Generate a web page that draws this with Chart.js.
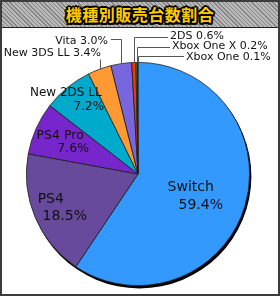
<!DOCTYPE html>
<html><head><meta charset="utf-8">
<script src="https://cdn.jsdelivr.net/npm/chart.js@4.4.1/dist/chart.umd.min.js"></script>
<style>
html,body{margin:0;padding:0;background:#fff;}
#wrap{position:relative;width:280px;height:296px;overflow:hidden;background:#fff;}
#c{position:absolute;left:0;top:0;}
#hdr{position:absolute;left:0;top:0;width:280px;height:27px;border-bottom:1px solid #222;
 background:repeating-linear-gradient(45deg,#858585 0 1px,#b8b8b8 1px 3px);
 display:flex;align-items:center;justify-content:center;
 font:bold 16px "Noto Sans CJK JP",sans-serif;color:#ffcc00;letter-spacing:0.5px;
 text-shadow:-2px 0 #000,2px 0 #000,0 -2px #000,0 2px #000,-1.5px -1.5px #000,1.5px -1.5px #000,-1.5px 1.5px #000,1.5px 1.5px #000;}
#frame{position:absolute;left:0;top:0;right:0;bottom:0;border:2px solid #3c3c3c;pointer-events:none;}
</style></head>
<body>
<div id="wrap">
<canvas id="c" width="280" height="296"></canvas>
<div id="hdr">機種別販売台数割合</div>
<div id="frame"></div>
</div>
<script>
// ---- data ----
const categories = ['Switch','PS4','PS4 Pro','New 2DS LL','New 3DS LL','Vita','2DS','Xbox One X','Xbox One'];
const shares = [59.4, 18.5, 7.6, 7.2, 3.4, 3.0, 0.6, 0.2, 0.1];
const sliceColors = ['#3399ff','#674a9c','#7726cc','#00aacc','#ff9933','#7766dd','#ff3300','#33a033','#005f2f'];

// ---- label layout (styling only) ----
const insideLabels = {
  0: {f:0.55, dx:-1, dy:4, l1:[-5,-9], l2:[5,9], size:14},
  1: {f:0.78, dx:0, dy:0, l1:[-7,-8.5], l2:[7,8.5], size:14},
  2: {f:0.70, dx:0, dy:0, l1:[-6.5,-6.5], l2:[6.5,6.5], size:12.5},
  3: {f:0.86, dx:0, dy:0, l1:[-11.5,-7], l2:[11.5,7], size:12}
};
const outsideLabels = {
  4: {x:101, y:53, align:'right', lineY:59, lineEnd:null},
  5: {x:108, y:41, align:'right', lineY:39, lineEnd:111},
  6: {x:170, y:36, align:'left', lineY:37, lineEnd:168},
  7: {x:172, y:46, align:'left', lineY:47, lineEnd:170},
  8: {x:186, y:57, align:'left', lineY:56, lineEnd:184}
};
const FONT = '"DejaVu Sans", Verdana, sans-serif';

const shadowPlugin = {
  id:'pieShadow',
  beforeDatasetsDraw(chart){
    const arc = chart.getDatasetMeta(0).data[0];
    if(!arc) return;
    const ctx = chart.ctx;
    ctx.save();
    ctx.fillStyle = '#000';
    ctx.beginPath();
    ctx.arc(arc.x + 1.5, arc.y + 2.5, arc.outerRadius + 0.3, 0, Math.PI*2);
    ctx.fill();
    ctx.restore();
  }
};

const labelPlugin = {
  id:'pieLabels',
  afterDatasetsDraw(chart){
    const ctx = chart.ctx;
    const meta = chart.getDatasetMeta(0);
    ctx.save();
    ctx.fillStyle = '#111';
    meta.data.forEach((arc, i) => {
      const mid = (arc.startAngle + arc.endAngle) / 2;
      const pct = shares[i].toFixed(1) + '%';
      if (insideLabels[i]) {
        const L = insideLabels[i];
        const ax = arc.x + Math.cos(mid) * arc.outerRadius * L.f + L.dx;
        const ay = arc.y + Math.sin(mid) * arc.outerRadius * L.f + L.dy;
        ctx.font = L.size + 'px ' + FONT;
        ctx.textAlign = 'center';
        ctx.textBaseline = 'middle';
        ctx.fillText(categories[i], ax + L.l1[0], ay + L.l1[1]);
        ctx.fillText(pct, ax + L.l2[0], ay + L.l2[1]);
      } else if (outsideLabels[i]) {
        const L = outsideLabels[i];
        const ex = Math.round(arc.x + Math.cos(mid) * arc.outerRadius) + 0.5;
        const ey = arc.y + Math.sin(mid) * arc.outerRadius;
        ctx.strokeStyle = '#555';
        ctx.lineWidth = 1;
        ctx.beginPath();
        ctx.moveTo(ex, ey);
        ctx.lineTo(ex, L.lineY + 0.5);
        if (L.lineEnd !== null) ctx.lineTo(L.lineEnd, L.lineY + 0.5);
        ctx.stroke();
        ctx.font = '11px ' + FONT;
        ctx.textAlign = L.align;
        ctx.textBaseline = 'middle';
        ctx.fillText(categories[i] + ' ' + pct, L.x, L.y);
      }
    });
    ctx.restore();
  }
};

new Chart(document.getElementById('c'), {
  type: 'pie',
  data: {
    labels: categories,
    datasets: [{
      data: shares,
      backgroundColor: sliceColors,
      borderColor: '#222',
      borderWidth: 0.8
    }]
  },
  options: {
    responsive: false,
    animation: false,
    devicePixelRatio: 1,
    layout: { padding: { left: 26, right: 30, top: 62, bottom: 10 } },
    plugins: { legend: { display: false }, tooltip: { enabled: false } }
  },
  plugins: [shadowPlugin, labelPlugin]
});
</script>
</body></html>
